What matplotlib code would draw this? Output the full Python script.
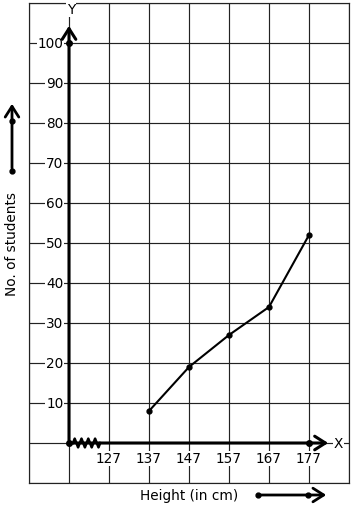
import numpy as np
import matplotlib.pyplot as plt

# class upper limits (cm) and cumulative frequencies
heights = [137, 147, 157, 167, 177]
students = [8, 19, 27, 34, 52]
x_ticks = [127, 137, 147, 157, 167, 177]
y_ticks = [10, 20, 30, 40, 50, 60, 70, 80, 90, 100]

origin_x = 117
fs = 9.8

fig = plt.figure(figsize=(3.54, 5.10), dpi=100)
ax = fig.add_axes([29 / 354, 26 / 510, 320 / 354, 480 / 510])
ax.set_xlim(107, 187)
ax.set_ylim(-10, 110)

# graph paper grid
for gx in range(107, 188, 10):
    ax.axvline(gx, color='#222222', lw=0.85, zorder=1)
for gy in range(-10, 111, 10):
    ax.axhline(gy, color='#222222', lw=0.85, zorder=1)
for s in ax.spines.values():
    s.set_color('#222222')
    s.set_linewidth(0.85)
ax.set_xticks([])
ax.set_yticks([])

arrow = '->,head_length=0.55,head_width=0.35'

# thick axes with open arrowheads
ax.annotate('', xy=(origin_x, 105), xytext=(origin_x, 0),
            arrowprops=dict(arrowstyle=arrow, lw=2.2, color='black', mutation_scale=14), zorder=4)
ax.annotate('', xy=(182.5, 0), xytext=(origin_x, 0),
            arrowprops=dict(arrowstyle=arrow, lw=2.2, color='black', mutation_scale=14), zorder=4)
ax.plot([origin_x, origin_x, 177], [0, 100, 0], 'o', color='black', ms=4, zorder=5)

# kink (broken axis) near origin
zz_x = np.linspace(118, 124.8, 17)
zz_y = np.array([0, 1.1, 0, -1.1] * 5)[:17]
ax.plot(zz_x, zz_y, color='black', lw=1.8, zorder=5)

# ogive
ax.plot(heights, students, color='black', lw=1.5, marker='o', ms=3.5, zorder=6)

bbox = dict(facecolor='white', edgecolor='none', pad=0.5)
for v in y_ticks:
    ax.text(115.6, v, str(v), ha='right', va='center', fontsize=fs, bbox=bbox, zorder=3)
for v in x_ticks:
    ax.text(v, -3.8, str(v), ha='center', va='center', fontsize=fs, bbox=bbox, zorder=3)
ax.text(origin_x + 0.5, 108.4, 'Y', ha='center', va='center', fontsize=fs, bbox=bbox, zorder=3)
ax.text(184.3, 0, 'X', ha='center', va='center', fontsize=fs, bbox=bbox, zorder=3)

# axis captions with little arrows, in figure pixels
fig.text(12 / 354, 1 - 244 / 510, 'No. of students', rotation=90, ha='center', va='center', fontsize=fs)
fig.text(189 / 354, 1 - 496 / 510, 'Height (in cm)', ha='center', va='center', fontsize=fs)

ov = fig.add_axes([0, 0, 1, 1])
ov.set_xlim(0, 354)
ov.set_ylim(510, 0)
ov.axis('off')
ov.patch.set_alpha(0)
ov.annotate('', xy=(12, 102), xytext=(12, 172),
            arrowprops=dict(arrowstyle=arrow, lw=2, color='black', mutation_scale=14))
ov.plot([12, 12], [122, 172], 'o', color='black', ms=3.5)
ov.annotate('', xy=(329, 496), xytext=(258, 496),
            arrowprops=dict(arrowstyle=arrow, lw=2, color='black', mutation_scale=14))
ov.plot([258, 308], [496, 496], 'o', color='black', ms=3.5)

fig.savefig('out.png', dpi=100)
